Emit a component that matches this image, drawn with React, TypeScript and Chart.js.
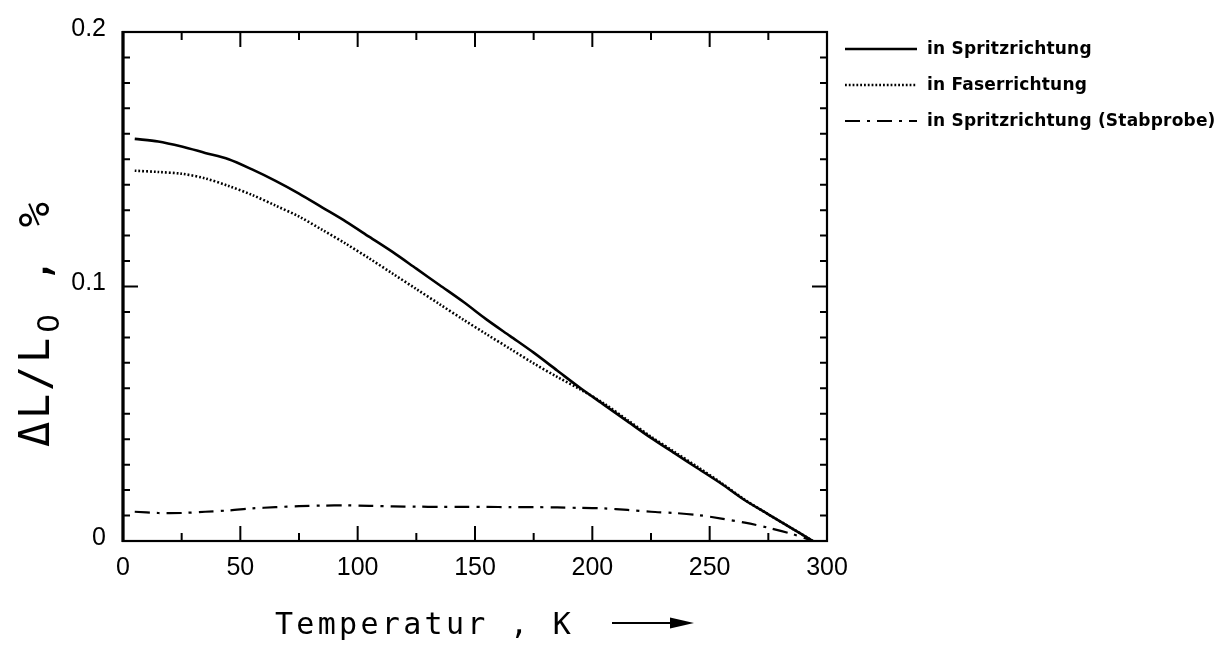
import React, { useEffect, useRef } from 'react';
import { Chart, registerables } from 'chart.js';

Chart.register(...registerables);

// ---- data ----
const temperatureK = [5, 15, 25, 35, 45, 55, 65, 75, 85, 95, 105, 115, 125, 135, 145, 155, 165, 175, 185, 195, 205, 215, 225, 235, 245, 255, 265, 275, 285, 294];
const spritzrichtung = [0.158, 0.157, 0.155, 0.1525, 0.150, 0.146, 0.1415, 0.1365, 0.131, 0.1255, 0.1195, 0.1135, 0.107, 0.1005, 0.094, 0.087, 0.0805, 0.074, 0.067, 0.060, 0.0535, 0.047, 0.0405, 0.0345, 0.0285, 0.0225, 0.016, 0.0105, 0.005, 0.0];
const faserrichtung = [0.1455, 0.145, 0.1443, 0.1425, 0.1395, 0.136, 0.1318, 0.1275, 0.1222, 0.1168, 0.111, 0.105, 0.099, 0.093, 0.087, 0.0812, 0.0755, 0.0698, 0.0645, 0.0595, 0.054, 0.0475, 0.041, 0.035, 0.029, 0.0228, 0.0162, 0.0105, 0.005, 0.0];
const stabprobe = [0.0115, 0.011, 0.011, 0.0115, 0.012, 0.0128, 0.0133, 0.0137, 0.0139, 0.014, 0.0138, 0.0136, 0.0135, 0.0134, 0.0134, 0.0134, 0.0133, 0.0133, 0.0132, 0.013, 0.0128, 0.0122, 0.0115, 0.011, 0.0102, 0.0088, 0.0072, 0.0052, 0.0028, 0.0];

const seriesNames = ['in Spritzrichtung', 'in Faserrichtung', 'in Spritzrichtung (Stabprobe)'];
const xTickValues = [0, 50, 100, 150, 200, 250, 300];
const yTickValues = [0, 0.1, 0.2];
const xMinorStep = 25;
const yMinorStep = 0.01;
const xTitle = 'Temperatur , K';
const yTitleMain = 'ΔL/L';
const yTitleSub = '0';
const yTitleTail = ' , %';

const W = 1232;
const H = 646;
const AREA = { left: 123, right: 827, top: 22, bottom: 541 };

const dashStyles: number[][] = [[], [1.8, 2], [15, 7, 3, 7]];
const lineWidths = [2.6, 2.6, 2.2];

const decorPlugin = {
  id: 'decor',
  afterDraw(chart: any) {
    const { ctx, chartArea: a, scales } = chart;
    const x = scales.x;
    const y = scales.y;
    ctx.save();
    ctx.strokeStyle = '#000';
    ctx.fillStyle = '#000';
    ctx.setLineDash([]);
    // frame
    ctx.lineWidth = 2.2;
    ctx.strokeRect(a.left, a.top, a.right - a.left, a.bottom - a.top);
    ctx.lineWidth = 3.2;
    ctx.beginPath();
    ctx.moveTo(a.left, a.top - 1);
    ctx.lineTo(a.left, a.bottom + 1);
    ctx.stroke();

    // x ticks (inward, bottom and top)
    ctx.lineWidth = 2;
    for (let v = 0; v <= 300 + 1e-9; v += xMinorStep) {
      const px = x.getPixelForValue(v);
      const major = Math.abs(v % 50) < 1e-9;
      const len = major ? 15 : 8;
      ctx.beginPath();
      ctx.moveTo(px, a.bottom);
      ctx.lineTo(px, a.bottom - len);
      ctx.moveTo(px, a.top);
      ctx.lineTo(px, a.top + len);
      ctx.stroke();
    }
    // y ticks (inward, left and right)
    for (let i = 0; i <= 20; i++) {
      const v = i * yMinorStep;
      const py = y.getPixelForValue(v);
      const major = i % 10 === 0;
      const len = major ? 15 : 7;
      ctx.beginPath();
      ctx.moveTo(a.left, py);
      ctx.lineTo(a.left + len, py);
      ctx.moveTo(a.right, py);
      ctx.lineTo(a.right - len, py);
      ctx.stroke();
    }

    // legend
    const rows = [49, 85, 121];
    const datasets = chart.data.datasets;
    ctx.font = 'bold 17px "DejaVu Sans"';
    (ctx as any).letterSpacing = '0.2px';
    ctx.textBaseline = 'middle';
    ctx.textAlign = 'left';
    datasets.forEach((ds: any, i: number) => {
      const ry = rows[i];
      ctx.setLineDash(ds.borderDash || []);
      ctx.lineWidth = ds.borderWidth;
      ctx.beginPath();
      ctx.moveTo(845, ry);
      ctx.lineTo(917, ry);
      ctx.stroke();
      ctx.setLineDash([]);
      ctx.fillText(ds.label, 927, ry + 1);
    });

    // x title
    ctx.font = '30px "DejaVu Sans Mono"';
    (ctx as any).letterSpacing = '3.3px';
    ctx.textBaseline = 'alphabetic';
    ctx.fillText(xTitle, 275, 634);
    (ctx as any).letterSpacing = '0px';
    // arrow
    ctx.lineWidth = 2;
    ctx.beginPath();
    ctx.moveTo(612, 623);
    ctx.lineTo(678, 623);
    ctx.stroke();
    ctx.beginPath();
    ctx.moveTo(670, 617.5);
    ctx.lineTo(694, 623);
    ctx.lineTo(670, 628.5);
    ctx.closePath();
    ctx.fill();

    // y title (rotated)
    ctx.translate(49, 447);
    ctx.rotate(-Math.PI / 2);
    ctx.font = '42px "DejaVu Sans Mono"';
    (ctx as any).letterSpacing = '2.7px';
    ctx.textBaseline = 'alphabetic';
    let cx = 0;
    ctx.fillText(yTitleMain, cx, 0);
    cx += ctx.measureText(yTitleMain).width + 2;
    ctx.font = '30px "DejaVu Sans"';
    ctx.fillText(yTitleSub, cx, 10);
    cx += ctx.measureText(yTitleSub).width;
    ctx.font = '42px "DejaVu Sans Mono"';
    ctx.fillText(yTitleTail, cx, 0);
    ctx.restore();
  },
};

export default function App() {
  const ref = useRef<HTMLCanvasElement | null>(null);

  useEffect(() => {
    document.body.style.margin = '0';
    const canvas = ref.current;
    if (!canvas) return;
    const seriesValues = [spritzrichtung, faserrichtung, stabprobe];
    const chart = new Chart(canvas, {
      type: 'line',
      data: {
        datasets: seriesValues.map((vals, i) => ({
          label: seriesNames[i],
          data: temperatureK.map((t, j) => ({ x: t, y: vals[j] })),
          borderColor: '#000',
          backgroundColor: '#000',
          borderWidth: lineWidths[i],
          borderDash: dashStyles[i],
          pointRadius: 0,
          tension: 0.3,
          fill: false,
        })),
      },
      options: {
        animation: false,
        responsive: false,
        maintainAspectRatio: false,
        devicePixelRatio: 1,
        layout: { padding: { left: 0, top: AREA.top, right: W - AREA.right, bottom: 0 } },
        plugins: {
          legend: { display: false },
          tooltip: { enabled: false },
          title: { display: false },
        },
        scales: {
          x: {
            type: 'linear',
            min: 0,
            max: 300,
            afterBuildTicks: (scale: any) => {
              scale.ticks = xTickValues.map((v) => ({ value: v }));
            },
            afterFit: (scale: any) => {
              scale.height = H - AREA.bottom;
            },
            grid: { display: false, drawTicks: false },
            border: { display: false },
            ticks: {
              padding: 12,
              color: '#000',
              font: { family: '"Liberation Sans"', size: 25 },
              maxRotation: 0,
              autoSkip: false,
            },
          },
          y: {
            type: 'linear',
            min: 0,
            max: 0.2,
            afterBuildTicks: (scale: any) => {
              scale.ticks = yTickValues.map((v) => ({ value: v }));
            },
            afterFit: (scale: any) => {
              scale.width = AREA.left;
            },
            grid: { display: false, drawTicks: false },
            border: { display: false },
            ticks: {
              padding: 17,
              color: '#000',
              font: { family: '"Liberation Sans"', size: 25 },
              callback: (v: any) => (Number(v) === 0 ? '0' : Number(v).toFixed(1)),
              labelOffset: -3,
            },
          },
        },
      },
      plugins: [decorPlugin],
    });
    return () => chart.destroy();
  }, []);

  return (
    <div style={{ width: W, height: H, background: '#fff' }}>
      <canvas ref={ref} width={W} height={H} style={{ display: 'block', width: W, height: H }} />
    </div>
  );
}
